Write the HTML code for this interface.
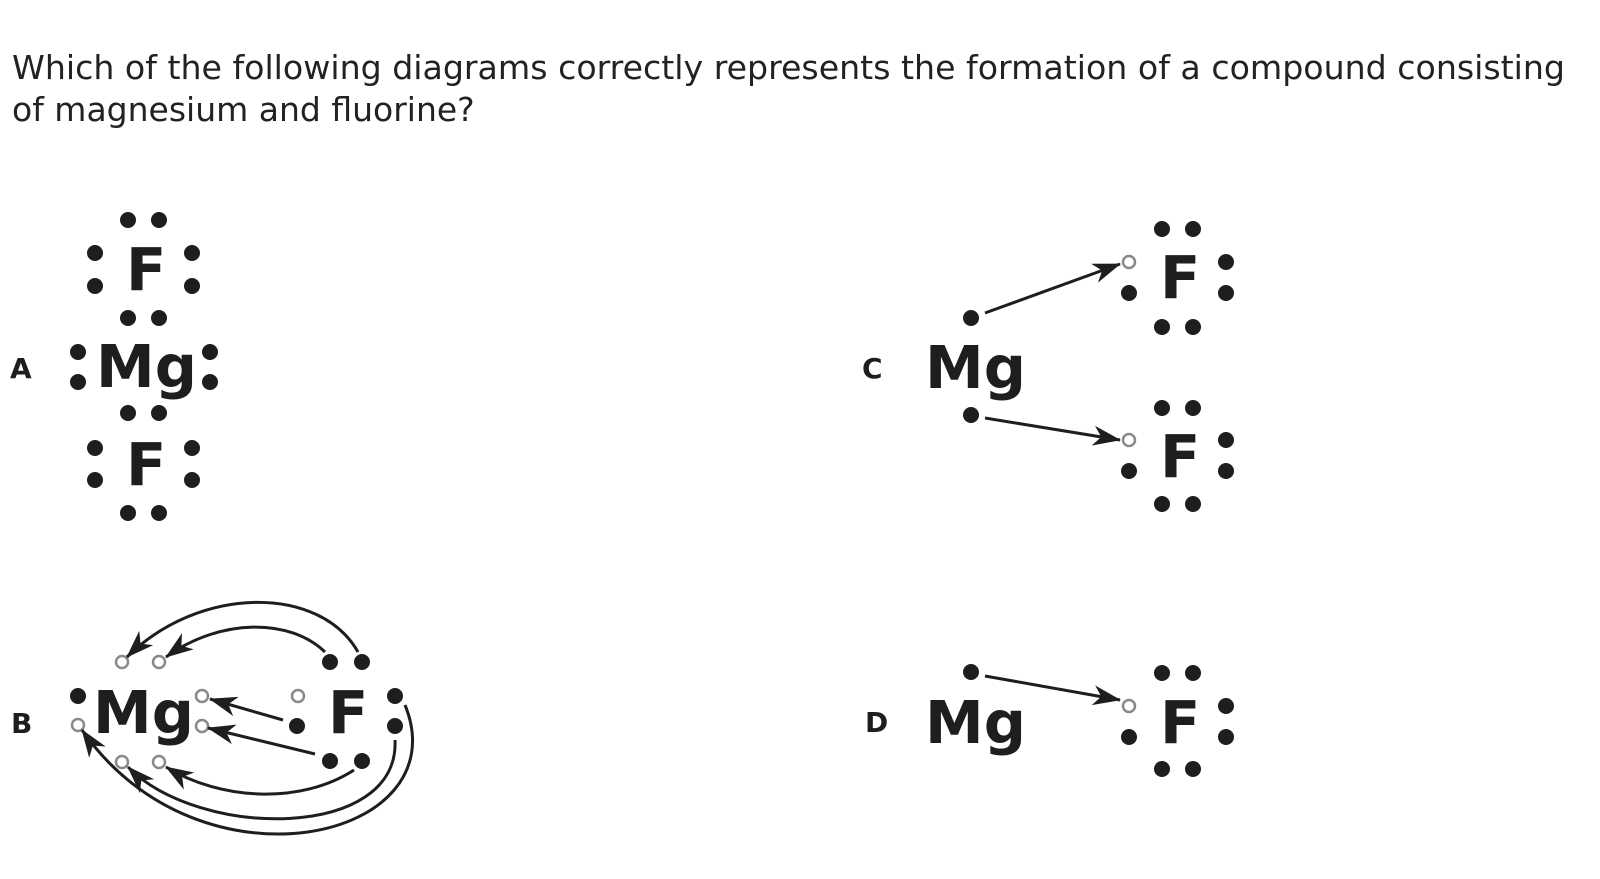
<!DOCTYPE html>
<html><head><meta charset="utf-8"><style>
html,body{margin:0;padding:0;background:#fff;}
svg{display:block;}
text{font-family:"DejaVu Sans","Liberation Sans",sans-serif;fill:#222;}
.t{font-size:33px;}
.el{font-size:59px;font-weight:bold;fill:#1e1e1e;}
.lb{font-size:28px;font-weight:bold;fill:#1e1e1e;}
</style></head><body>
<svg width="1600" height="879" viewBox="0 0 1600 879" xmlns="http://www.w3.org/2000/svg">
<defs>
<marker id="ah" viewBox="0 0 28 20" refX="27" refY="10" markerWidth="28" markerHeight="20" markerUnits="userSpaceOnUse" orient="auto">
<path d="M0,0 L28,10 L0,20 L8,10 Z" fill="#1e1e1e"/>
</marker>
</defs>
<text class="t" x="12" y="79" textLength="1553" lengthAdjust="spacingAndGlyphs">Which of the following diagrams correctly represents the formation of a compound consisting</text>
<text class="t" x="12" y="121">of magnesium and fluorine?</text>

<g fill="#1e1e1e">
<!-- A -->
<text class="lb" x="10" y="378">A</text>
<text class="el" x="126" y="290">F</text>
<text class="el" x="96" y="387">Mg</text>
<text class="el" x="126" y="485">F</text>
<circle cx="128" cy="220" r="8"/><circle cx="159" cy="220" r="8"/>
<circle cx="95" cy="253" r="8"/><circle cx="95" cy="286" r="8"/>
<circle cx="192" cy="253" r="8"/><circle cx="192" cy="286" r="8"/>
<circle cx="128" cy="318" r="8"/><circle cx="159" cy="318" r="8"/>
<circle cx="78" cy="352" r="8"/><circle cx="78" cy="382" r="8"/>
<circle cx="210" cy="352" r="8"/><circle cx="210" cy="382" r="8"/>
<circle cx="128" cy="413" r="8"/><circle cx="159" cy="413" r="8"/>
<circle cx="95" cy="448" r="8"/><circle cx="95" cy="480" r="8"/>
<circle cx="192" cy="448" r="8"/><circle cx="192" cy="480" r="8"/>
<circle cx="128" cy="513" r="8"/><circle cx="159" cy="513" r="8"/>

<!-- C -->
<text class="lb" x="862" y="378">C</text>
<text class="el" x="925" y="388">Mg</text>
<circle cx="971" cy="318" r="8"/><circle cx="971" cy="415" r="8"/>
<text class="el" x="1160" y="298">F</text>
<circle cx="1162" cy="229" r="8"/><circle cx="1193" cy="229" r="8"/>
<circle cx="1129" cy="293" r="8"/>
<circle cx="1226" cy="262" r="8"/><circle cx="1226" cy="293" r="8"/>
<circle cx="1162" cy="327" r="8"/><circle cx="1193" cy="327" r="8"/>
<text class="el" x="1160" y="477">F</text>
<circle cx="1162" cy="408" r="8"/><circle cx="1193" cy="408" r="8"/>
<circle cx="1129" cy="471" r="8"/>
<circle cx="1226" cy="440" r="8"/><circle cx="1226" cy="471" r="8"/>
<circle cx="1162" cy="504" r="8"/><circle cx="1193" cy="504" r="8"/>

<!-- D -->
<text class="lb" x="865" y="732">D</text>
<text class="el" x="925" y="743">Mg</text>
<circle cx="971" cy="672" r="8"/>
<text class="el" x="1160" y="743">F</text>
<circle cx="1162" cy="673" r="8"/><circle cx="1193" cy="673" r="8"/>
<circle cx="1129" cy="737" r="8"/>
<circle cx="1226" cy="706" r="8"/><circle cx="1226" cy="737" r="8"/>
<circle cx="1162" cy="769" r="8"/><circle cx="1193" cy="769" r="8"/>

<!-- B -->
<text class="lb" x="11" y="733">B</text>
<text class="el" x="93" y="733">Mg</text>
<text class="el" x="328" y="733">F</text>
<circle cx="78" cy="696" r="8"/>
<circle cx="297" cy="726" r="8"/>
<circle cx="395" cy="696" r="8"/><circle cx="395" cy="726" r="8"/>
<circle cx="330" cy="662" r="8"/><circle cx="362" cy="662" r="8"/>
<circle cx="330" cy="761" r="8"/><circle cx="362" cy="761" r="8"/>
</g>

<g fill="#fff" stroke="#8a8a8a" stroke-width="2.5">
<circle cx="1129" cy="262" r="6"/>
<circle cx="1129" cy="440" r="6"/>
<circle cx="1129" cy="706" r="6"/>
<circle cx="78" cy="725" r="6"/>
<circle cx="122" cy="662" r="6"/><circle cx="159" cy="662" r="6"/>
<circle cx="202" cy="696" r="6"/><circle cx="202" cy="726" r="6"/>
<circle cx="298" cy="696" r="6"/>
<circle cx="122" cy="762" r="6"/><circle cx="159" cy="762" r="6"/>
</g>

<g fill="none" stroke="#1e1e1e" stroke-width="3" marker-end="url(#ah)">
<line x1="985" y1="313" x2="1120" y2="264"/>
<line x1="985" y1="418" x2="1120" y2="440"/>
<line x1="985" y1="676" x2="1120" y2="700"/>
<path d="M358,652 C320,585 200,585 127,657"/>
<path d="M325,652 C290,618 220,618 166,657"/>
<line x1="283" y1="720" x2="210" y2="699"/>
<line x1="315" y1="754" x2="208" y2="728"/>
<path d="M354,770 C300,805 220,800 166,767"/>
<path d="M395,740 C400,840 200,840 128,767"/>
<path d="M405,705 C460,840 200,900 82,730"/>
</g>
</svg>
</body></html>
